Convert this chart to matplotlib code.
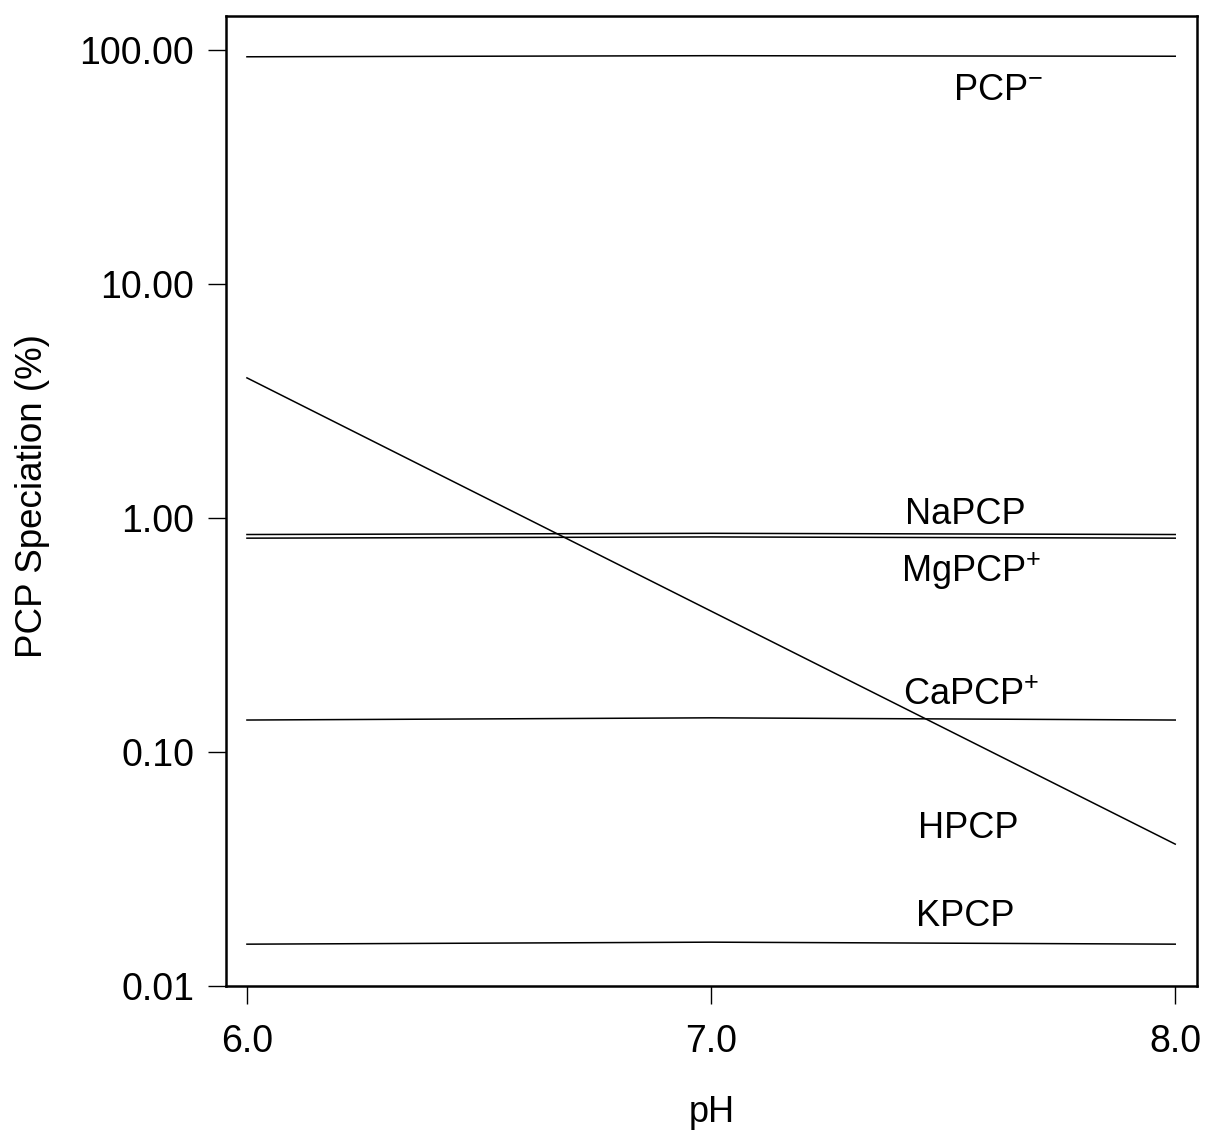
import numpy as np
import matplotlib.pyplot as plt
from matplotlib.ticker import FixedLocator, FormatStrFormatter, NullLocator

plt.rcParams['font.family'] = ['Liberation Sans', 'DejaVu Sans']
plt.rcParams['mathtext.fontset'] = 'custom'
plt.rcParams['mathtext.rm'] = 'Liberation Sans'
plt.rcParams['mathtext.it'] = 'Liberation Sans'

# pH values and speciation (%)
ph = [6.0, 7.0, 8.0]
pcp_minus = [93.5, 94.5, 94.0]
na_pcp = [0.85, 0.86, 0.85]
mg_pcp = [0.82, 0.83, 0.82]
ca_pcp = [0.137, 0.140, 0.137]
h_pcp = [3.97, 0.40, 0.0404]
k_pcp = [0.0151, 0.0154, 0.0151]

labels = ['PCP$^{-}$', 'NaPCP', 'MgPCP$^{+}$', 'CaPCP$^{+}$', 'HPCP', 'KPCP']
label_x = [7.618, 7.547, 7.56, 7.56, 7.554, 7.547]
label_y = [67.4, 1.04, 0.59, 0.175, 0.047, 0.0198]

fig = plt.figure(figsize=(12.05, 11.33), dpi=100)
ax = fig.add_axes([0.1876, 0.1297, 0.8058, 0.8564])

for s in [pcp_minus, na_pcp, mg_pcp, ca_pcp, h_pcp, k_pcp]:
    ax.plot(ph, s, color='black', lw=1.1)

for lab, lx, ly in zip(labels, label_x, label_y):
    ax.text(lx, ly, lab, fontsize=26, ha='center', va='center')

ax.set_yscale('log')
ax.set_xlim(5.955, 8.047)
ax.set_ylim(0.01, 140)
ax.yaxis.set_major_locator(FixedLocator([0.01, 0.1, 1, 10, 100]))
ax.yaxis.set_minor_locator(NullLocator())
ax.yaxis.set_major_formatter(FormatStrFormatter('%.2f'))
ax.xaxis.set_major_locator(FixedLocator([6.0, 7.0, 8.0]))
ax.xaxis.set_major_formatter(FormatStrFormatter('%.1f'))

for sp in ax.spines.values():
    sp.set_linewidth(1.8)
ax.tick_params(axis='both', direction='out', length=13, width=1.0, labelsize=27)
ax.tick_params(axis='y', pad=10)
ax.tick_params(axis='x', pad=14)

ax.set_xlabel('pH', fontsize=26)
ax.xaxis.set_label_coords(0.5, -0.112)
ax.set_ylabel('PCP Speciation (%)', fontsize=26.5)
ax.yaxis.set_label_coords(-0.181, 0.505)

fig.savefig('out.png', dpi=100)
